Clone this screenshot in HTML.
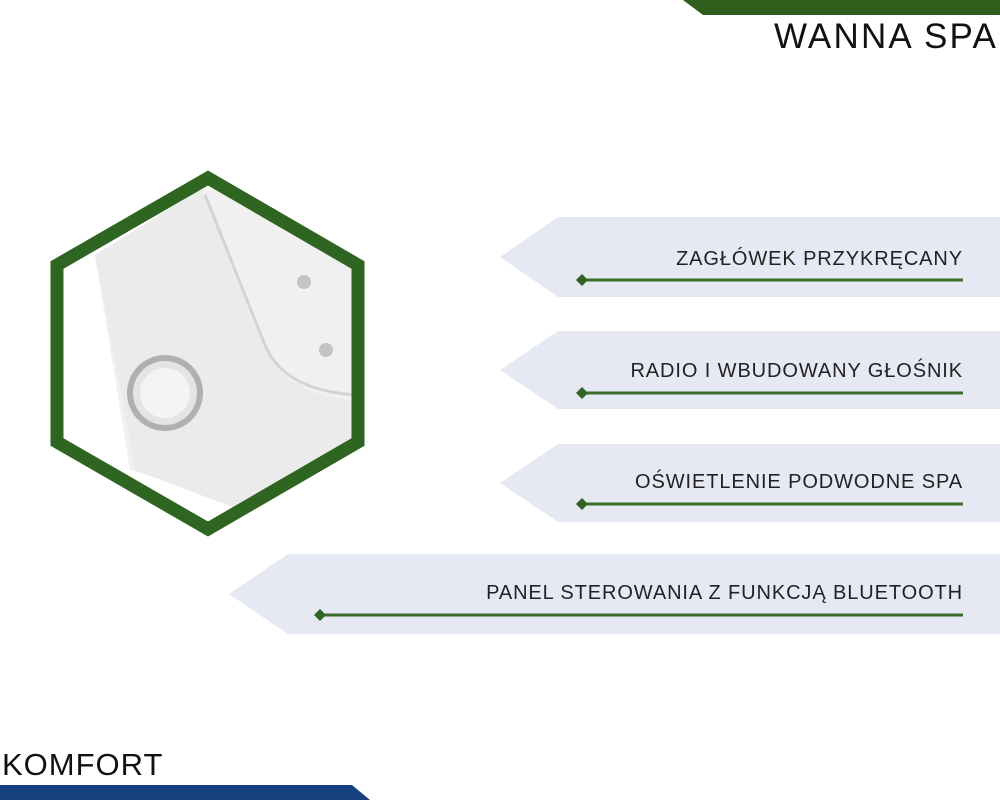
<!DOCTYPE html>
<html><head><meta charset="utf-8"><style>
html,body{margin:0;padding:0;background:#fff;width:1000px;height:800px;overflow:hidden}
text{font-family:"Liberation Sans",sans-serif}
</style></head><body>
<svg width="1000" height="800" viewBox="0 0 1000 800" xmlns="http://www.w3.org/2000/svg">
<rect width="1000" height="800" fill="#fff"/>
<polygon points="683,0 1000,0 1000,15 703,15" fill="#2f5f1c"/>
<text x="998" y="48" text-anchor="end" font-size="35" fill="#111" letter-spacing="2.2">WANNA SPA</text>
<polygon points="0,785 352,785 370,800 0,800" fill="#17407f"/>
<text x="2" y="775" font-size="31" fill="#111" letter-spacing="1">KOMFORT</text>

<defs><clipPath id="hx"><polygon points="208,178 358,265 358,442 208,529 57,442 57,265"/></clipPath></defs>
<g clip-path="url(#hx)">
<rect x="50" y="170" width="320" height="370" fill="#fff"/>
<path d="M95,255 L200,190 L360,190 L360,440 L320,460 L250,505 L130,470 Z" fill="#f0f0f0"/>
<path d="M95,255 L200,190 L210,200 L265,345 Q285,395 350,400 L360,400 L360,460 L240,510 L135,470 L130,440 Z" fill="#ebebeb"/>
<path d="M205,195 L265,345 Q285,392 360,395" stroke="#d4d4d4" stroke-width="3" fill="none"/>
<circle cx="165" cy="393" r="38" fill="#b0b0b0"/>
<circle cx="165" cy="393" r="32" fill="#e4e4e4"/>
<circle cx="165" cy="393" r="25" fill="#f4f4f4"/>
<circle cx="304" cy="282" r="7" fill="#c4c4c4"/>
<circle cx="326" cy="350" r="7" fill="#c4c4c4"/>
</g>
<polygon points="208,178 358,265 358,442 208,529 57,442 57,265" fill="none" stroke="#2e6520" stroke-width="13"/>

<g fill="#e6e9f4">
<polygon points="558,217 1000,217 1000,297 558,297 500,257"/>
<polygon points="558,331 1000,331 1000,409 558,409 500,370"/>
<polygon points="558,444 1000,444 1000,522 558,522 500,483"/>
<polygon points="288,554 1000,554 1000,634 288,634 229,594"/>
</g>
<g font-size="20" fill="#222" text-anchor="end" letter-spacing="0.9">
<text x="963" y="265">ZAGŁÓWEK PRZYKRĘCANY</text>
<text x="963" y="377">RADIO I WBUDOWANY GŁOŚNIK</text>
<text x="963" y="488">OŚWIETLENIE PODWODNE SPA</text>
<text x="963" y="599">PANEL STEROWANIA Z FUNKCJĄ BLUETOOTH</text>
</g>
<g stroke="#3a6b2a" stroke-width="3">
<line x1="582" y1="280" x2="963" y2="280"/>
<line x1="582" y1="393" x2="963" y2="393"/>
<line x1="582" y1="504" x2="963" y2="504"/>
<line x1="320" y1="615" x2="963" y2="615"/>
</g>
<g fill="#2e6520">
<polygon points="582,274 588,280 582,286 576,280"/>
<polygon points="582,387 588,393 582,399 576,393"/>
<polygon points="582,498 588,504 582,510 576,504"/>
<polygon points="320,609 326,615 320,621 314,615"/>
</g>
</svg>
</body></html>
